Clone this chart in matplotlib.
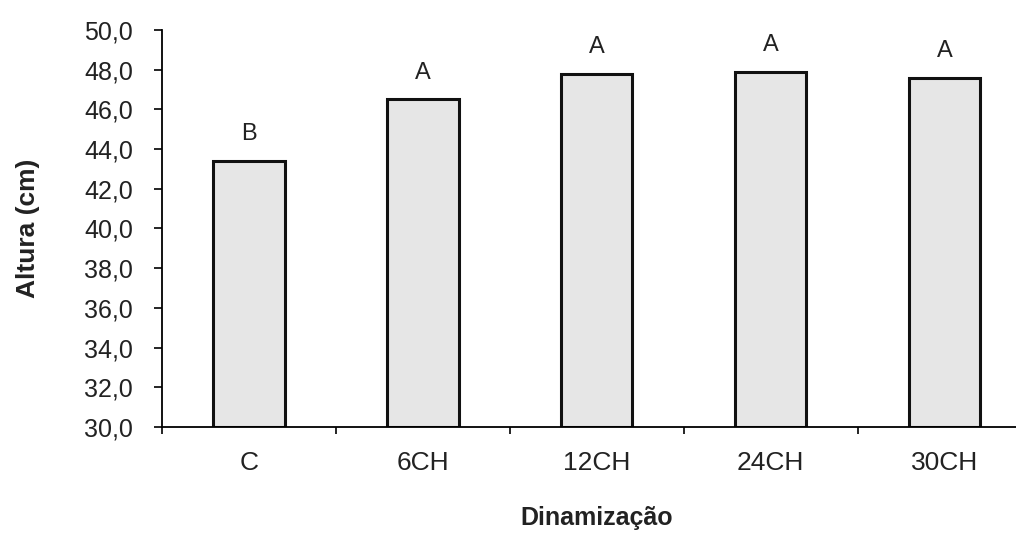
import matplotlib.pyplot as plt

plt.rcParams['font.family'] = ['Liberation Sans', 'DejaVu Sans']

categorias = ['C', '6CH', '12CH', '24CH', '30CH']
altura = [43.4, 46.5, 47.8, 47.9, 47.6]
letras = ['B', 'A', 'A', 'A', 'A']
yticks = [30, 32, 34, 36, 38, 40, 42, 44, 46, 48, 50]

fig = plt.figure(figsize=(10.16, 5.34), dpi=100)
ax = fig.add_axes([0.1594, 0.2004, 0.856, 0.7434])

x = list(range(len(categorias)))
ax.bar(x, [v - 30 for v in altura], bottom=30, width=0.41,
       color='#e6e6e6', edgecolor='#111111', linewidth=2.2)

for xi, v, l in zip(x, altura, letras):
    ax.text(xi, v + 0.8, l, ha='center', va='bottom', fontsize=17, color='#222222')

ax.set_xlim(-0.5, 4.5)
ax.set_ylim(30, 50)
ax.set_yticks(yticks)
ax.set_yticklabels([('%.1f' % t).replace('.', ',') for t in yticks], fontsize=18, color='#222222')
ax.set_xticks(x)
ax.set_xticklabels(categorias, fontsize=19, color='#222222')
ax.set_xticks([i - 0.5 for i in range(len(categorias) + 1)], minor=True)
ax.tick_params(axis='x', which='major', length=0, pad=17)
ax.tick_params(axis='x', which='minor', length=5, width=1.2)
ax.tick_params(axis='y', length=6, width=1.2, pad=15)

ax.spines['top'].set_visible(False)
ax.spines['right'].set_visible(False)
ax.spines['left'].set_linewidth(1.3)
ax.spines['bottom'].set_linewidth(1.3)

ax.set_ylabel('Altura (cm)', fontsize=19, fontweight='bold', color='#222222')
ax.yaxis.set_label_coords(-0.14, 0.5)
ax.set_xlabel('Dinamização', fontsize=18, fontweight='bold', color='#222222')
ax.xaxis.set_label_coords(0.5, -0.198)

fig.savefig('out.png', dpi=100)
